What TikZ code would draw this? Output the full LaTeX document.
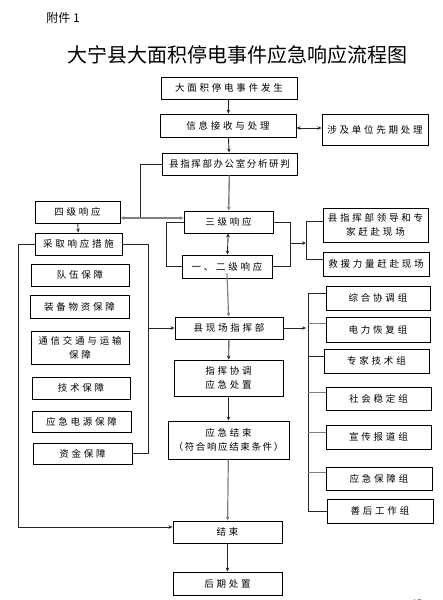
\documentclass[tikz,border=0pt]{standalone}
\usepackage{fontspec}
\setmainfont{Noto Sans CJK SC}
\newfontfamily\boxfont[LetterSpace=29]{Noto Sans CJK SC}
\newfontfamily\boxfontn[LetterSpace=17]{Noto Sans CJK SC}
\usetikzlibrary{arrows.meta}
\begin{document}
\begin{tikzpicture}[x=1pt,y=-1pt,
  box/.style={draw=black, line width=0.9pt, inner sep=0pt, align=center,
    font=\boxfont\fontsize{9.5}{14}\selectfont, text=black},
  wh/.style 2 args={minimum width=#1pt, minimum height=#2pt},
  conn/.style={draw=black!85, line width=0.9pt},
  grayc/.style={draw=black!50, line width=1.4pt},
  tip/.tip={Stealth[length=4pt,width=3.6pt]},
  arr/.style={-tip},
  dbl/.style={tip-tip}]
\useasboundingbox[fill=white] (0,0) rectangle (442,600);

% headings
\node[font=\fontsize{12}{12}\selectfont, text=black] (att) at (63,18) {附件 1};
\node[font=\fontsize{20}{20}\selectfont] (title) at (237,55) {大宁县大面积停电事件应急响应流程图};

% centre column
\node[box, wh={136}{22}] (start) at (229,88) {大面积停电事件发生};
\node[box, wh={136}{23}] (recv) at (228,125.5) {信息接收与处理};
\node[box, wh={106}{31}] (early) at (375,129.5) {涉及单位先期处理};
\node[box, wh={135}{22}, font=\boxfontn\fontsize{9.5}{14}\selectfont] (analyze) at (229.5,164) {县指挥部办公室分析研判};
\node[box, wh={85}{22}] (lv4) at (77.5,212) {四级响应};
\node[box, wh={87}{22}] (take) at (78.5,244) {采取响应措施};
\node[box, wh={89}{22}] (lv3) at (228.5,222) {三级响应};
\node[box, wh={90}{23}] (lv12) at (227,266.5) {一、二级响应};
\node[box, wh={105}{34}] (lead) at (375.5,225) {县指挥部领导和专\\家赶赴现场};
\node[box, wh={106}{24}] (rescue) at (376,264) {救援力量赶赴现场};

% left column
\node[box, wh={98}{22}] (g1) at (80,275) {队伍保障};
\node[box, wh={99}{23}] (g2) at (79.5,306.5) {装备物资保障};
\node[box, wh={98}{33}] (g3) at (80,347.5) {通信交通与运输\\保障};
\node[box, wh={98}{22}] (g4) at (81,388) {技术保障};
\node[box, wh={99}{21}] (g5) at (81.5,421.5) {应急电源保障};
\node[box, wh={99}{21}] (g6) at (82.5,453.5) {资金保障};

% centre lower
\node[box, wh={108}{22}] (site) at (229,328) {县现场指挥部};
\node[box, wh={109}{36}] (coord) at (228.5,378) {指挥协调\\应急处置};
\node[box, wh={121}{38}] (endemg) at (228.5,440) {应急结束\\{\boxfontn（符合响应结束条件）}};
\node[box, wh={109}{22}] (fin) at (227.5,532) {结束};
\node[box, wh={109}{23}] (after) at (227.5,583.5) {后期处置};

% right groups
\node[box, wh={104}{24}] (r1) at (378,298) {综合协调组};
\node[box, wh={104}{25}] (r2) at (378,329.5) {电力恢复组};
\node[box, wh={105}{24}] (r3) at (376.5,361) {专家技术组};
\node[box, wh={105}{23}] (r4) at (378.5,398.5) {社会稳定组};
\node[box, wh={105}{24}] (r5) at (378.5,437) {宣传报道组};
\node[box, wh={106}{23}] (r6) at (379,478.5) {应急保障组};
\node[box, wh={106}{24}] (r7) at (380,511) {善后工作组};

\node[font=\fontsize{9}{9}\selectfont, anchor=north] (pg) at (417,596.5) {15};

% helper coordinates
\coordinate (ka) at (140,218);
\coordinate (rb) at (290,243);
\coordinate (lb) at (306,243);
\coordinate (lbt) at (306,221);
\coordinate (lbb) at (306,259);
\coordinate (tl) at (18,244);
\coordinate (tr) at (148,244);
\coordinate (tm) at (148,328);
\coordinate (bus) at (308,328);
\coordinate (b1) at (308,293);
\coordinate (b2) at (308,323);
\coordinate (b3) at (308,356);
\coordinate (b4) at (308,392);
\coordinate (b5) at (308,432);
\coordinate (b6) at (308,472);
\coordinate (b7) at (308,511);
\coordinate (fl) at (18,527);

% connectors
\draw[conn, arr] (start) -- (recv);
\draw[conn, dbl] (recv.east |- 0,128) -- (early.west |- 0,128);
\draw[conn, arr] (recv) -- (analyze);
\draw[grayc, arr] (analyze) -- (lv3);
\draw[conn] (analyze.west) -| (ka);
\draw[grayc, dbl] (ka -| lv4.east) -- (ka -| lv3.west);
\draw[conn, dbl] (lv3) -- (lv12);
\draw[conn] (lv3.west) -- ++(-17,0) |- (lv12.west);
\draw[conn] (lv3.east) -- ++(17,0) |- (lv12.east);
\draw[conn, arr] (rb) -- (lb);
\draw[conn] (lbt -| lead.west) -- (lbt) -- (lbb) -- (lbb -| rescue.west);
\draw[conn, arr] (lv4) -- (take);
\draw[conn, arr] (take.west) -- (tl) -- (fl) -- (fl -| fin.west);
\draw[conn] (take.east) -- (tr) |- (g6.east);
\draw[conn, arr] (tm) -- (site.west);
\draw[grayc, line width=1.2pt, arr] ([yshift=5pt]lv12.south) -- (site);
\draw[conn, arr] (site) -- (coord);
\draw[conn, arr] (coord) -- (endemg);
\draw[grayc, line width=1.2pt, arr] (endemg) -- (fin);
\draw[conn, arr] (fin) -- (after);
\draw[conn, arr] (site.east) -- ([xshift=-2pt]bus);
\draw[conn] (b1) -- (b7);
\draw[conn] (b1) -- (b1 -| r1.west);
\draw[grayc, line width=1pt] (b2) -- (b2 -| r2.west);
\draw[conn] (b3) -- (b3 -| r3.west);
\draw[grayc, line width=1pt] (b4) -- (b4 -| r4.west);
\draw[grayc, line width=1pt] (b5) -- (b5 -| r5.west);
\draw[grayc, line width=1pt] (b6) -- (b6 -| r6.west);
\draw[conn] (b7) -- (b7 -| r7.west);
\end{tikzpicture}
\end{document}
